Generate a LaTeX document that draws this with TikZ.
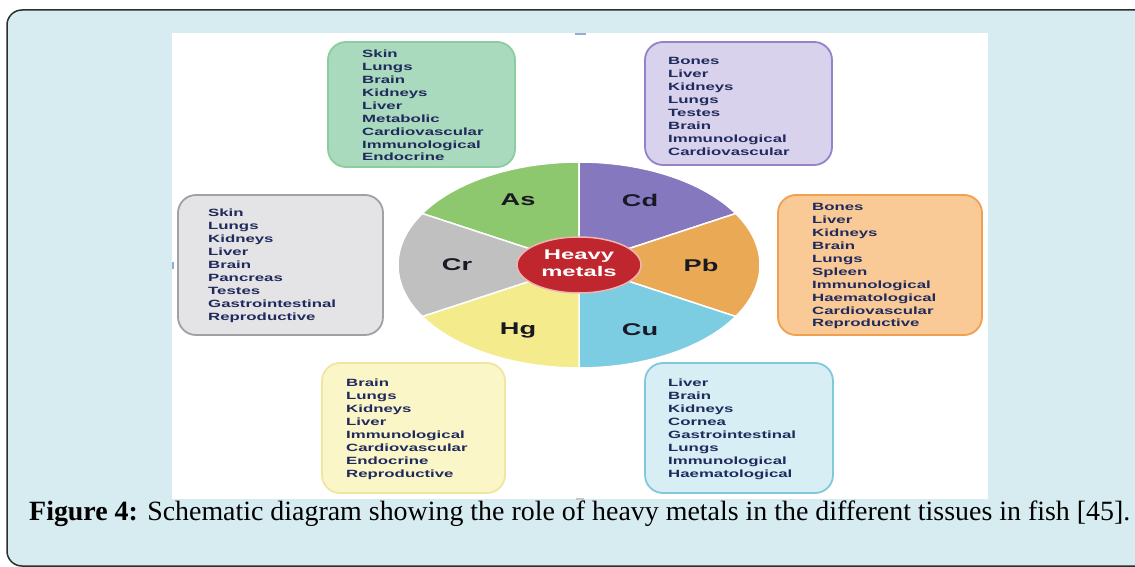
\documentclass[tikz,border=0pt]{standalone}
\usepackage{fontspec}
\setmainfont{Liberation Serif}
\newfontfamily\diagfont{Liberation Sans}
\usetikzlibrary{positioning, calc, shapes}
\definecolor{pagebg}{RGB}{215,236,241}
\definecolor{pageline}{RGB}{45,45,45}
\definecolor{organtext}{RGB}{32,42,92}
\definecolor{metaltext}{RGB}{25,25,35}
\definecolor{asgreen}{RGB}{141,199,110}
\definecolor{cdpurple}{RGB}{134,120,190}
\definecolor{pborange}{RGB}{233,169,85}
\definecolor{cublue}{RGB}{125,205,226}
\definecolor{hgyellow}{RGB}{244,236,140}
\definecolor{crgray}{RGB}{192,192,192}
\definecolor{metalred}{RGB}{192,38,45}
\definecolor{metalring}{RGB}{240,180,180}
\definecolor{asfill}{RGB}{170,218,190}
\definecolor{asline}{RGB}{140,205,160}
\definecolor{cdfill}{RGB}{216,210,236}
\definecolor{cdline}{RGB}{150,130,200}
\definecolor{pbfill}{RGB}{250,202,150}
\definecolor{pbline}{RGB}{240,160,80}
\definecolor{crfill}{RGB}{228,228,230}
\definecolor{crline}{RGB}{160,160,165}
\definecolor{hgfill}{RGB}{251,246,200}
\definecolor{hgline}{RGB}{240,230,160}
\definecolor{cufill}{RGB}{214,238,244}
\definecolor{culine}{RGB}{130,200,220}
\definecolor{tickblue}{RGB}{150,172,212}
\tikzset{organbox/.style={draw, line width=1.8pt, rounded corners=18pt, inner sep=0pt}}
\tikzset{organlist/.style={anchor=base west, inner sep=0pt, text=organtext, font=\diagfont\bfseries\fontsize{10.5}{12.9}\selectfont}}
\tikzset{metal/.style={inner sep=0pt, text=metaltext, font=\diagfont\bfseries\fontsize{17}{20}\selectfont}}
\newcommand{\organs}[1]{\scalebox{1.6}[1]{\begin{tabular}[t]{@{}l@{}}#1\end{tabular}}}

\begin{document}
\begin{tikzpicture}[x=1pt, y=-1pt]
      \useasboundingbox (0,0) rectangle (1135,567);
      \clip (0,0) rectangle (1135,567);
      \filldraw[fill=pagebg, draw=pageline, line width=1.5pt, rounded corners=15pt] (7,10) rectangle (1165,566);
      \fill[white] (172,33) rectangle (988,499);
      \fill[tickblue] (575,33) rectangle (586,35);
      \fill[tickblue] (172,262) rectangle (174,269);
      \fill[crline!60] (576,498) rectangle (584,500);

      % organ boxes
      \node[organbox, fill=asfill, draw=asline, minimum width=187, minimum height=125] (asbox) at (421.5,104.5) {};
      \node[organlist] (aslist) at (362,57.8) {\organs{Skin\\Lungs\\Brain\\Kidneys\\Liver\\Metabolic\\Cardiovascular\\Immunological\\Endocrine}};

      \node[organbox, fill=cdfill, draw=cdline, minimum width=187, minimum height=123] (cdbox) at (738.5,103.5) {};
      \node[organlist] (cdlist) at (668,64.8) {\organs{Bones\\Liver\\Kidneys\\Lungs\\Testes\\Brain\\Immunological\\Cardiovascular}};

      \node[organbox, fill=pbfill, draw=pbline, minimum width=204, minimum height=140] (pbbox) at (880,265) {};
      \node[organlist] (pblist) at (812,210.8) {\organs{Bones\\Liver\\Kidneys\\Brain\\Lungs\\Spleen\\Immunological\\Haematological\\Cardiovascular\\Reproductive}};

      \node[organbox, fill=crfill, draw=crline, minimum width=205, minimum height=140] (crbox) at (280.5,265) {};
      \node[organlist] (crlist) at (208,216.8) {\organs{Skin\\Lungs\\Kidneys\\Liver\\Brain\\Pancreas\\Testes\\Gastrointestinal\\Reproductive}};

      \node[organbox, fill=hgfill, draw=hgline, minimum width=183, minimum height=130] (hgbox) at (413.5,428) {};
      \node[organlist] (hglist) at (346,386.8) {\organs{Brain\\Lungs\\Kidneys\\Liver\\Immunological\\Cardiovascular\\Endocrine\\Reproductive}};

      \node[organbox, fill=cufill, draw=culine, minimum width=188, minimum height=130] (cubox) at (739,428) {};
      \node[organlist] (culist) at (668,386.8) {\organs{Liver\\Brain\\Kidneys\\Cornea\\Gastrointestinal\\Lungs\\Immunological\\Haematological}};

      % wheel of metals
      \coordinate (pie) at (579,265);
      \foreach \a/\col in {-150/asgreen, -90/cdpurple, -30/pborange, 30/cublue, 90/hgyellow, 150/crgray}
        \filldraw[fill=\col, draw=white, line width=1.5pt] (pie) -- ++(\a:181 and 103) arc[start angle=\a, delta angle=60, x radius=181, y radius=103] -- cycle;
      \foreach \m/\sym in {-120/As, -60/Cd, 0/Pb, 60/Cu, 120/Hg, 180/Cr}
        \node[metal] (\sym) at ($(pie)+(\m:122 and 75)$) {\scalebox{1.6}[1]{\sym}};

      \node[ellipse, fill=metalred, draw=metalring, line width=1.5pt, minimum width=124, minimum height=56, inner sep=0pt, text=white, font=\diagfont\bfseries\fontsize{14}{17}\selectfont] (heavy) at (pie) {\scalebox{1.7}[1]{\begin{tabular}{@{}c@{}}Heavy\\metals\end{tabular}}};

      \node[anchor=base west, inner sep=0pt] (caption) at (29,520) {\resizebox{1101pt}{!}{\textbf{Figure 4:} Schematic diagram showing the role of heavy metals in the different tissues in fish [45].}};
    \end{tikzpicture}
\end{document}
